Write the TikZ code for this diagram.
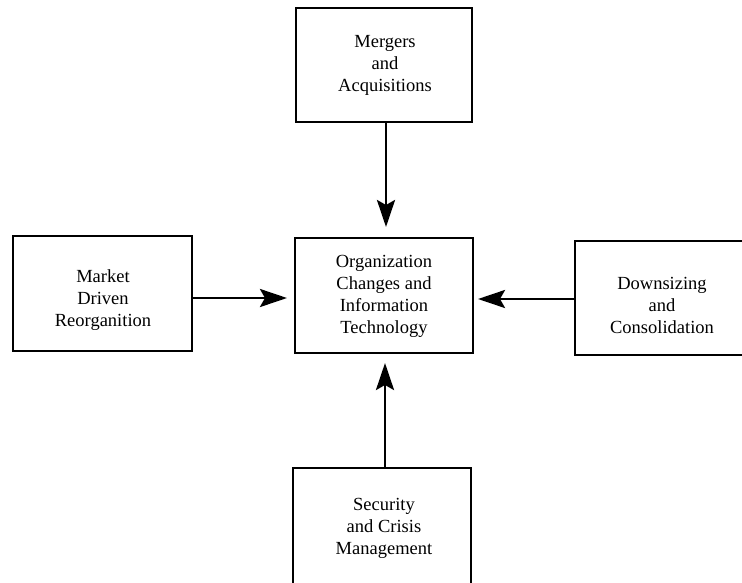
\documentclass[tikz,border=0pt]{standalone}
\usepackage{fontspec}
\setmainfont{Liberation Serif}
\usetikzlibrary{arrows.meta}
\begin{document}
\begin{tikzpicture}[x=1pt,y=-1pt,
  box/.style={draw=black,line width=1.6pt,rectangle,inner sep=0pt},
  lbl/.style={align=center,inner sep=0pt,font=\fontsize{18.5}{22}\selectfont},
  arr/.style={line width=2.8pt,-{Stealth[length=27pt,width=18pt,inset=5pt]}}]
\useasboundingbox (0,0) rectangle (742,582);
\clip (0,0) rectangle (742,582);
% boxes
\node[box,minimum width=176pt,minimum height=114pt] (T) at (384,65) {};
\node[box,minimum width=179pt,minimum height=115pt] (L) at (102.5,293.5) {};
\node[box,minimum width=178pt,minimum height=115pt] (C) at (384,295.5) {};
\node[box,minimum width=177pt,minimum height=114pt] (R) at (663.5,298) {};
\node[box,minimum width=178pt,minimum height=124pt] (B) at (382,530) {};
% texts
\node[lbl] (Tt) at (385,65) {Mergers\\and\\Acquisitions};
\node[lbl] (Lt) at (103,300) {Market\\Driven\\Reorganition};
\node[lbl] (Ct) at (384,296) {Organization\\Changes and\\Information\\Technology};
\node[lbl] (Rt) at (662,305) {Downsizing\\and\\Consolidation};
\node[lbl] (Bt) at (384,528) {Security\\and Crisis\\Management};
% arrow ends
\coordinate (tT) at (386,227);
\coordinate (tL) at (287,298);
\coordinate (tR) at (478,299);
\coordinate (tB) at (385,363);
\draw[arr] (T.south -| tT) -- (tT);
\draw[arr] (L.east |- tL) -- (tL);
\draw[arr] (R.west |- tR) -- (tR);
\draw[arr] (B.north -| tB) -- (tB);
\end{tikzpicture}
\end{document}
